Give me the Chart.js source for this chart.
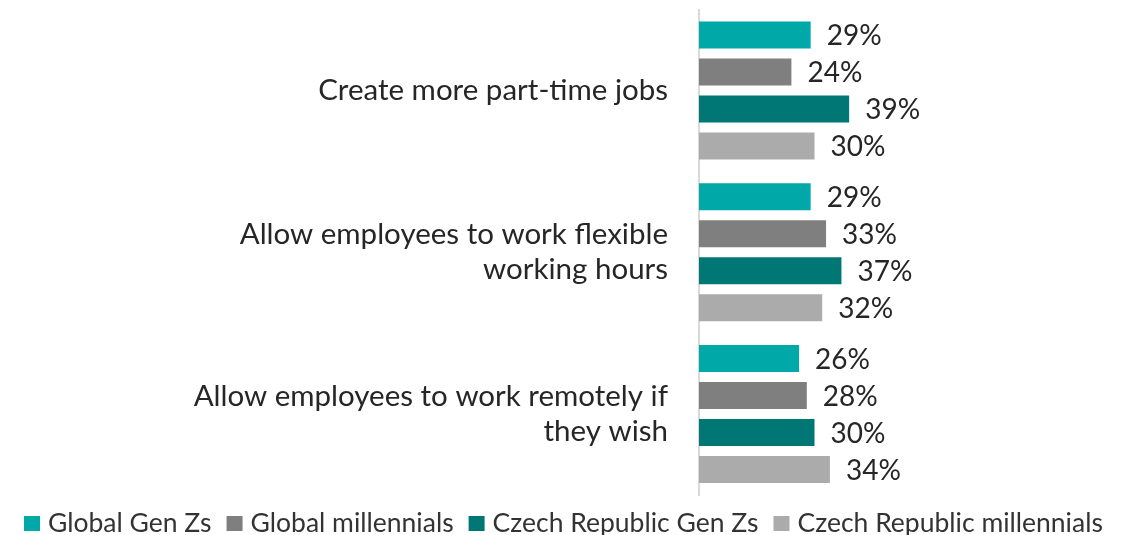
<!DOCTYPE html>
<html><head><meta charset="utf-8">
<script src="https://cdn.jsdelivr.net/npm/chart.js@4/dist/chart.umd.min.js"></script>
<style>html,body{margin:0;padding:0;background:#fff}#wrap{width:1132px;height:535px}</style>
</head><body><div id="wrap"><canvas id="c" width="1132" height="535"></canvas></div>
<script>
const categories = [
  ["Create more part-time jobs"],
  ["Allow employees to work flexible", "working hours"],
  ["Allow employees to work remotely if", "they wish"]
];
const seriesNames = ["Global Gen Zs", "Global millennials", "Czech Republic Gen Zs", "Czech Republic millennials"];
const globalGenZ = [29, 29, 26];
const globalMillennials = [24, 33, 28];
const czechGenZ = [39, 37, 30];
const czechMillennials = [30, 32, 34];
const colors = ["#00A9A8", "#7F7F7F", "#007775", "#ABABAB"];

const labelPlugin = {
  id: 'valLabels',
  afterDatasetsDraw(chart) {
    const ctx = chart.ctx;
    ctx.save();
    ctx.font = '28px Lato';
    ctx.fillStyle = '#262626';
    ctx.textAlign = 'left';
    ctx.textBaseline = 'middle';
    chart.data.datasets.forEach((ds, i) => {
      chart.getDatasetMeta(i).data.forEach((bar, j) => {
        ctx.fillText(ds.data[j] + '%', bar.x + 16, bar.y + 1);
      });
    });
    ctx.restore();
  }
};

const legendPlugin = {
  id: 'customLegend',
  afterDraw(chart) {
    const ctx = chart.ctx;
    ctx.save();
    ctx.font = '26.5px Lato';
    ctx.textBaseline = 'middle';
    ctx.textAlign = 'left';
    const box = 16, gapText = 8, gapItem = 15;
    const widths = chart.data.datasets.map(ds => ctx.measureText(ds.label).width);
    let total = 0;
    widths.forEach((w, i) => { total += box + gapText + w + (i < widths.length - 1 ? gapItem : 0); });
    let x = Math.round((chart.width - total) / 2) - 3;
    const cy = 523.5;
    chart.data.datasets.forEach((ds, i) => {
      ctx.fillStyle = ds.backgroundColor;
      ctx.fillRect(x, cy - 7.5, box, 15);
      ctx.fillStyle = '#333333';
      ctx.fillText(ds.label, x + box + gapText, cy);
      x += box + gapText + widths[i] + gapItem;
    });
    ctx.restore();
  }
};

new Chart(document.getElementById('c'), {
  type: 'bar',
  data: {
    labels: categories,
    datasets: [globalGenZ, globalMillennials, czechGenZ, czechMillennials].map((d, i) => ({
      label: seriesNames[i], data: d, backgroundColor: colors[i],
      categoryPercentage: 0.914, barPercentage: 0.73
    }))
  },
  options: {
    indexAxis: 'y',
    responsive: false,
    animation: false,
    layout: { padding: { top: 9.5, right: 48, left: 0, bottom: 40 } },
    scales: {
      x: { display: false, min: 0, max: 100 },
      y: {
        grid: { display: false },
        border: { display: true, color: '#D9D9D9', width: 2 },
        ticks: { color: '#262626', font: { family: 'Lato', size: 29.5, lineHeight: 1.2 }, padding: 23 },
        afterFit(scale) { scale.width = 699; scale.paddingTop = 0; scale.paddingBottom = 0; }
      }
    },
    plugins: {
      tooltip: { enabled: false },
      legend: { display: false }
    }
  },
  plugins: [labelPlugin, legendPlugin]
});
</script></body></html>
